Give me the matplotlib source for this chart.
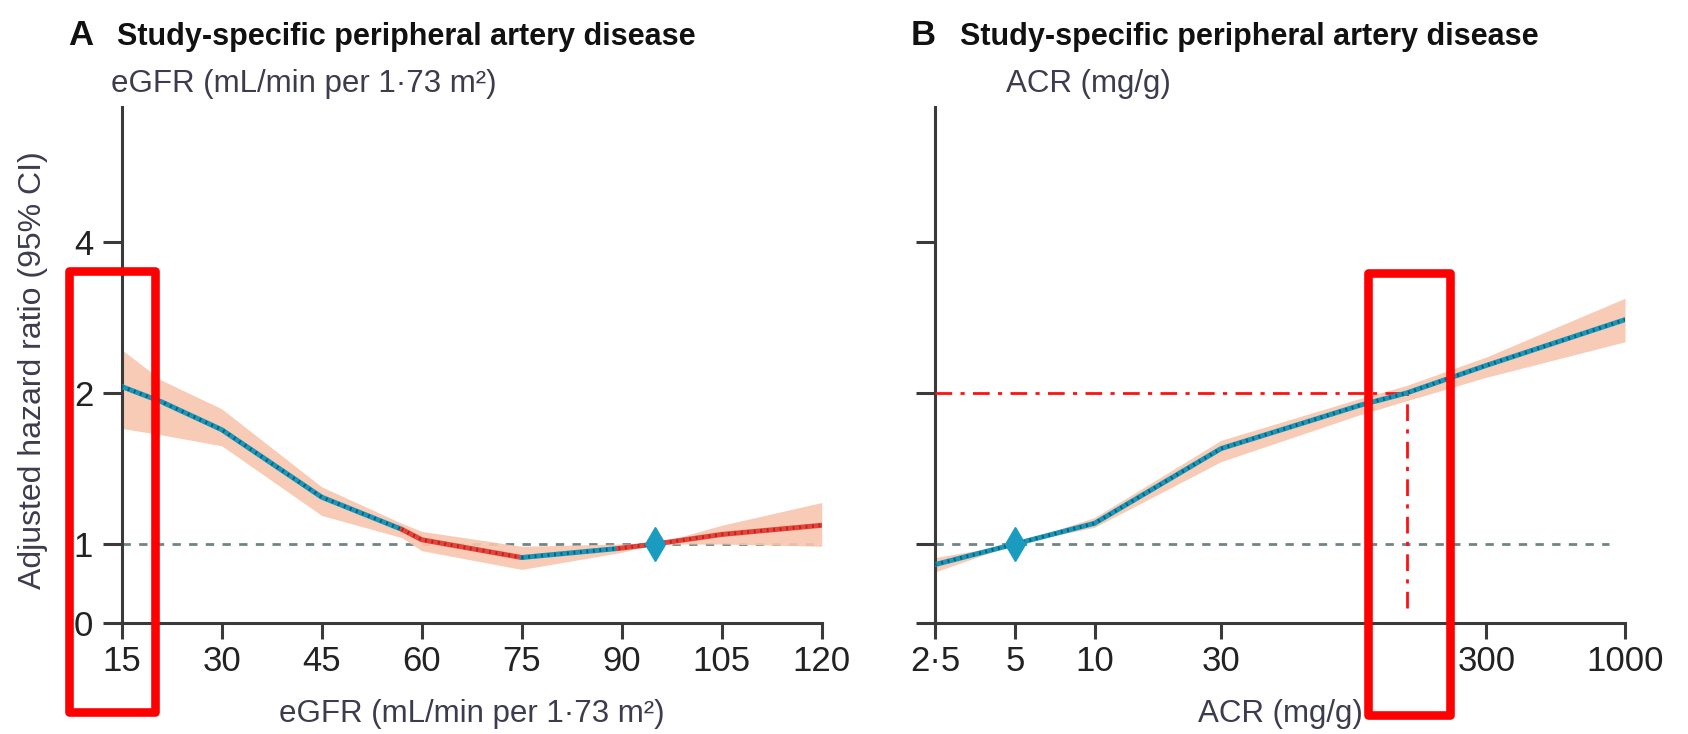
import numpy as np
import matplotlib
matplotlib.use('Agg')
import matplotlib.pyplot as plt
from matplotlib import font_manager, transforms
from matplotlib.patches import Rectangle

# pick a narrow sans if we have it
names = {f.name for f in font_manager.fontManager.ttflist}
font = 'Liberation Sans Narrow' if 'Liberation Sans Narrow' in names else 'Liberation Sans'
plt.rcParams['font.family'] = [font, 'DejaVu Sans']

# Panel A: eGFR
egfr = [15, 21, 30, 45, 57, 60, 75, 89.5, 95, 105, 120]
hr_a = [2.06, 1.92, 1.69, 1.24, 1.07, 1.02, 0.94, 0.98, 1.0, 1.045, 1.09]
lo_a = [1.70, 1.65, 1.57, 1.14, 1.03, 0.97, 0.89, 0.96, 1.0, 1.0, 0.99]
hi_a = [2.44, 2.12, 1.86, 1.30, 1.10, 1.06, 0.99, 1.0, 1.0, 1.09, 1.21]
seg_a = [(15, 57, 'blue'), (57, 75, 'red'), (75, 89.5, 'blue'), (89.5, 120, 'red')]
ref_a = 95
xticks_a = [15, 30, 45, 60, 75, 90, 105, 120]

# Panel B: ACR
acr = [2.5, 5, 10, 30, 100, 150, 300, 1000]
hr_b = [0.91, 1.0, 1.10, 1.55, 1.89, 2.0, 2.27, 2.80]
lo_b = [0.88, 1.0, 1.08, 1.46, 1.81, 1.93, 2.15, 2.53]
hi_b = [0.94, 1.0, 1.13, 1.61, 1.95, 2.07, 2.36, 3.09]
ref_b = 5
xticks_b = [2.5, 5, 10, 30, 300, 1000]
xlabels_b = ['2·5', '5', '10', '30', '300', '1000']
mark_acr, mark_hr = 150, 2.0

yticks = [0.696, 1, 2, 4]
ylabels = ['0', '1', '2', '4']
ylim = (0.696, 7.43)

BLUE = '#1b95b8'
DOT = '#0b5f78'
RED = '#e8433a'
BAND = '#f7c6ad'
REF = '#6e8585'
TXT = '#222222'
SUB = '#3c3c4e'
colors = {'blue': BLUE, 'red': RED}

fig = plt.figure(figsize=(16.88, 7.34), dpi=100)
axA = fig.add_axes([0.0721, 0.1512, 0.4147, 0.7030])
axB = fig.add_axes([0.5539, 0.1512, 0.4088, 0.7030])


def style(ax):
    ax.set_yscale('log', base=2)
    ax.set_ylim(*ylim)
    ax.set_yticks(yticks)
    ax.minorticks_off()
    for s in ['top', 'right']:
        ax.spines[s].set_visible(False)
    for s in ['left', 'bottom']:
        ax.spines[s].set_linewidth(2.2)
        ax.spines[s].set_color('#3a3a3a')
    ax.tick_params(axis='y', length=13.5, width=2.2, color='#3a3a3a', pad=7,
                   labelsize=25, labelcolor=TXT)
    ax.tick_params(axis='x', length=11.5, width=2.2, color='#3a3a3a', pad=4,
                   labelsize=25, labelcolor=TXT)
    ax.set_facecolor('none')


def curve(ax, x, y, color):
    ax.plot(x, y, color=color, lw=3.6, zorder=4, solid_capstyle='round')
    ax.plot(x, y, color=DOT if color == BLUE else '#b02820', lw=2.6,
            linestyle=(0, (0.5, 1.3)), zorder=5)


# ---- panel A
style(axA)
axA.set_xlim(15, 120)
axA.set_xticks(xticks_a)
axA.set_yticklabels(ylabels)
axA.plot([15, 120], [1, 1], color=REF, lw=2, linestyle=(0, (3, 3)), zorder=1)
axA.fill_between(egfr, lo_a, hi_a, color=BAND, alpha=0.9, lw=0, zorder=2)
x_a = np.array(egfr)
for a, b, c in seg_a:
    m = (x_a >= a) & (x_a <= b)
    curve(axA, x_a[m], np.array(hr_a)[m], colors[c])
axA.plot([ref_a], [1], marker='d', ms=17, color='#1a9cc0', zorder=6)
axA.set_xlabel('eGFR (mL/min per 1·73 m²)', fontsize=22.5, color=SUB, va='center')
axA.xaxis.set_label_coords(0.5, -0.176)
axA.set_ylabel('Adjusted hazard ratio (95% CI)', fontsize=23, color=SUB, va='center')
axA.yaxis.set_label_coords(-0.127, 0.49)

# ---- panel B
style(axB)
axB.set_xscale('log')
axB.set_xlim(2.5, 1000)
axB.set_xticks(xticks_b)
axB.set_xticklabels(xlabels_b)
axB.minorticks_off()
axB.set_yticklabels([])
axB.plot([2.5, 870], [1, 1], color=REF, lw=2, linestyle=(0, (3, 3)), zorder=1)
axB.fill_between(acr, lo_b, hi_b, color=BAND, alpha=0.9, lw=0, zorder=2)
curve(axB, acr, hr_b, BLUE)
axB.plot([ref_b], [1], marker='d', ms=17, color='#1a9cc0', zorder=6)
axB.plot([2.5, mark_acr], [mark_hr, mark_hr], color='#ff1010', lw=2,
         linestyle=(0, (6, 3, 1.5, 3)), zorder=3)
axB.plot([mark_acr, mark_acr], [0.745, mark_hr], color='#ff1010', lw=2,
         linestyle=(0, (6, 3, 1.5, 3)), zorder=3)
axB.set_xlabel('ACR (mg/g)', fontsize=22.5, color=SUB, va='center')
axB.xaxis.set_label_coords(0.5, -0.176)

# ---- titles
fig.text(0.0403, 0.9387, 'A', fontsize=25, fontweight='bold', color='#111111')
fig.text(0.0693, 0.9387, 'Study-specific peripheral artery disease', fontsize=22,
         fontweight='bold', color='#111111')
fig.text(0.5397, 0.9387, 'B', fontsize=25, fontweight='bold', color='#111111')
fig.text(0.5687, 0.9387, 'Study-specific peripheral artery disease', fontsize=22,
         fontweight='bold', color='#111111')
fig.text(0.066, 0.8747, 'eGFR (mL/min per 1·73 m²)', fontsize=22.5, color=SUB)
fig.text(0.596, 0.8747, 'ACR (mg/g)', fontsize=22.5, color=SUB)

# ---- red highlight boxes
trA = transforms.blended_transform_factory(axA.transData, fig.transFigure)
fig.patches.append(Rectangle((7.1, 0.030), 20.0 - 7.1, 0.631 - 0.030, transform=trA,
                             fill=False, ec='#ff0000', lw=6.2, joinstyle='round',
                             zorder=10))
trB = transforms.blended_transform_factory(axB.transData, fig.transFigure)
fig.patches.append(Rectangle((107, 0.026), 218 - 107, 0.628 - 0.026, transform=trB,
                             fill=False, ec='#ff0000', lw=6.2, joinstyle='round',
                             zorder=10))

fig.savefig('out.png', dpi=100, facecolor='white')
